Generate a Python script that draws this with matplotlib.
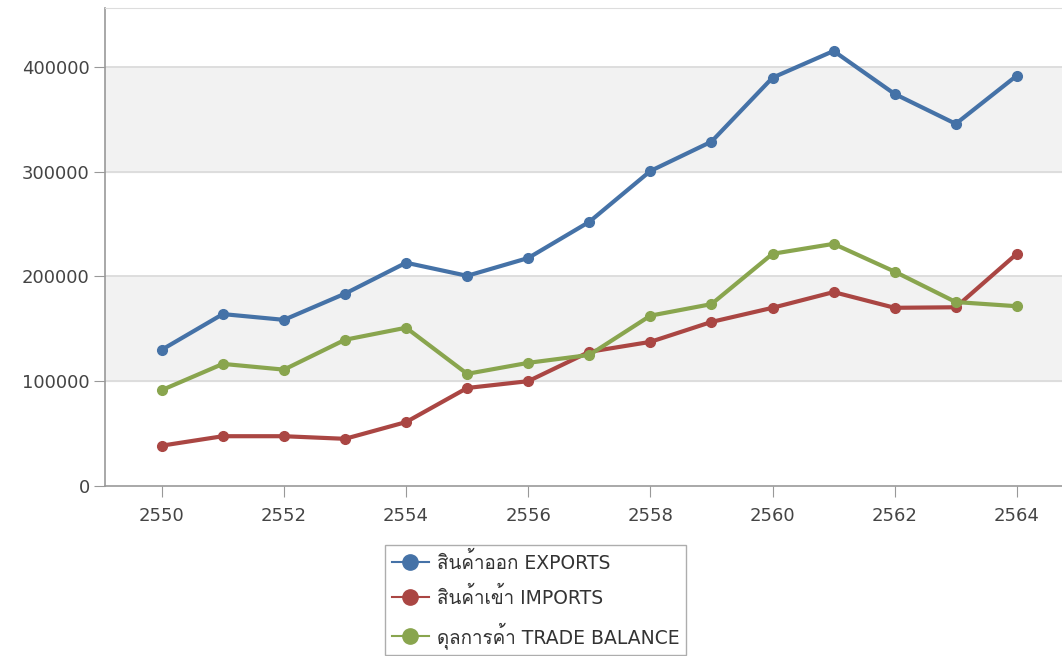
import matplotlib
matplotlib.use("Agg")
import matplotlib.pyplot as plt
from matplotlib import font_manager
from matplotlib.ft2font import FT2Font
from matplotlib.lines import Line2D

years = [2550, 2551, 2552, 2553, 2554, 2555, 2556, 2557, 2558, 2559, 2560, 2561, 2562, 2563, 2564]
exports = [130000, 164000, 158500, 183500, 213000, 200500, 217500, 252000, 300500, 328500, 389500, 415000, 374000, 345500, 391500]
imports = [38500, 47500, 47500, 45000, 61000, 93500, 100000, 128000, 137500, 156500, 170000, 185000, 170000, 170500, 221500]
balance = [91500, 116500, 111000, 139500, 151000, 107000, 117500, 125000, 162500, 173500, 221500, 231000, 204500, 175500, 171500]
labels = ["สินค้าออก EXPORTS", "สินค้าเข้า IMPORTS", "ดุลการค้า TRADE BALANCE"]
colors = ["#4572a7", "#aa4643", "#89a54e"]

# find some installed font that has Thai glyphs
thai_font = None
for f in font_manager.fontManager.ttflist:
    try:
        if 0x0E2A in FT2Font(f.fname).get_charmap():
            thai_font = f.name
            break
    except Exception:
        pass
families = ["DejaVu Sans"]
if thai_font:
    families = ["DejaVu Sans", thai_font]
plt.rcParams["font.family"] = families

fig = plt.figure(figsize=(10.62, 6.56), dpi=100)
ax = fig.add_axes([105 / 1062, 1 - 486 / 656, 1 - 105 / 1062, (486 - 8) / 656])

ax.set_xlim(2549.07, 2564.74)
ax.set_ylim(0, 456000)

# alternating bands
for lo in (100000, 300000):
    ax.axhspan(lo, lo + 100000, color="#f2f2f2", zorder=0)
for y in (100000, 200000, 300000, 400000):
    ax.axhline(y, color="#d9d9d9", lw=1.2, zorder=1)

for vals, c in zip([exports, imports, balance], colors):
    ax.plot(years, vals, color=c, lw=3, marker="o", ms=7, zorder=3)

ax.set_yticks([0, 100000, 200000, 300000, 400000])
ax.set_xticks(range(2550, 2565, 2))
ax.tick_params(axis="both", length=8, color="#999999", labelsize=13, labelcolor="#444444")
ax.tick_params(axis="y", pad=3)
ax.tick_params(axis="x", pad=7)

ax.spines["right"].set_visible(False)
ax.spines["top"].set_color("#dddddd")
ax.spines["left"].set_color("#999999")
ax.spines["bottom"].set_color("#999999")
ax.spines["left"].set_linewidth(1.2)
ax.spines["bottom"].set_linewidth(1.2)

handles = [Line2D([], [], color=c, lw=1.5, marker="o", ms=11) for c in colors]
leg = fig.legend(handles, labels, loc="upper left", bbox_to_anchor=(385 / 1062, 1 - 545 / 656),
                 borderaxespad=0, frameon=True, fancybox=False, fontsize=13.5, handlelength=2.0,
                 borderpad=0.35, labelspacing=0.75, handletextpad=0.4)
leg.get_frame().set_edgecolor("#999999")
leg.get_frame().set_linewidth(1.0)
for t in leg.get_texts():
    t.set_color("#333333")

fig.savefig("out.png", dpi=100)
